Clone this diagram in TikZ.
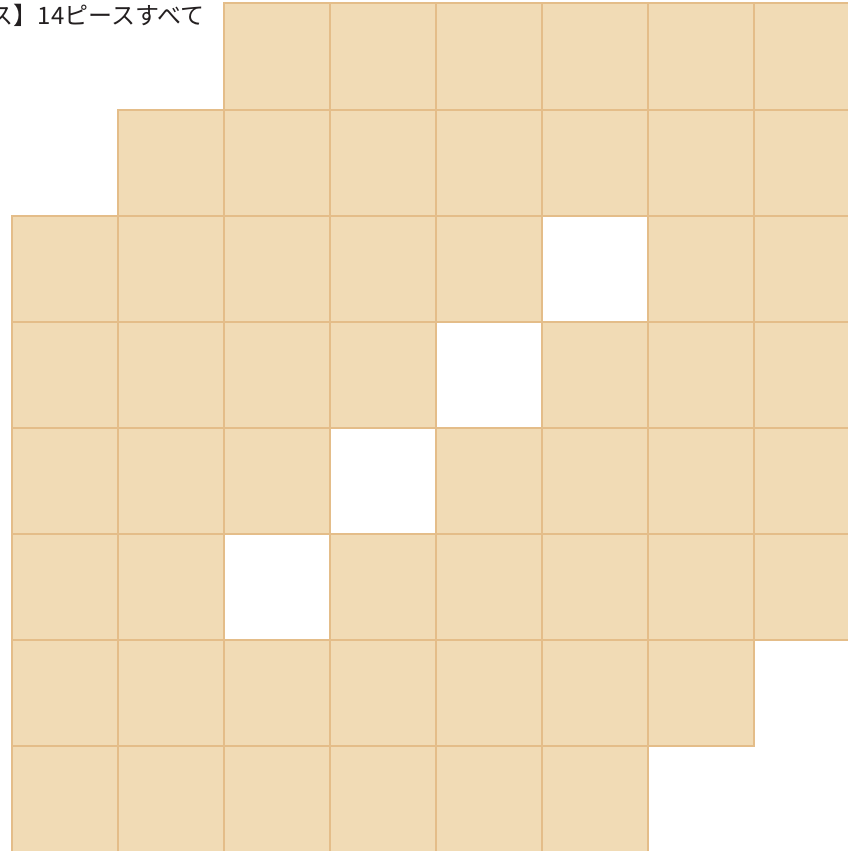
\documentclass[tikz,border=0pt]{standalone}
\usepackage{fontspec}
\newfontfamily\jpfont{Noto Sans CJK JP}
\definecolor{cellfill}{HTML}{F1DBB5}
\definecolor{cellline}{HTML}{E4BD89}
\definecolor{txt}{HTML}{231F20}
\begin{document}
\begin{tikzpicture}[x=1pt,y=-1pt,
  cellfillstyle/.style={fill=cellfill},
  celledge/.style={draw=cellline,line width=2pt},
  caption/.style={font=\jpfont\fontsize{24}{28}\selectfont,text=txt,inner sep=0pt}]
\useasboundingbox (0,0) rectangle (848,851);
\clip (0,0) rectangle (848,851);
\node[caption,anchor=base east] (cap) at (205,24.5) {ス】14ピースすべて};
\def\rowlist{0/{2,3,4,5,6,7},1/{1,2,3,4,5,6,7},2/{0,1,2,3,4,6,7},3/{0,1,2,3,5,6,7},4/{0,1,2,4,5,6,7},5/{0,1,3,4,5,6,7},6/{0,1,2,3,4,5,6},7/{0,1,2,3,4,5}}
% fills first
\foreach \r/\cols in \rowlist {
  \foreach \c in \cols {
    \fill[cellfillstyle] ({11.5+106*\c},{3.5+106*\r}) rectangle ++(106,106);
  }
}
% then outlines
\foreach \r/\cols in \rowlist {
  \foreach \c in \cols {
    \draw[celledge] ({11.5+106*\c},{3.5+106*\r}) rectangle ++(106,106);
  }
}
\end{tikzpicture}
\end{document}
